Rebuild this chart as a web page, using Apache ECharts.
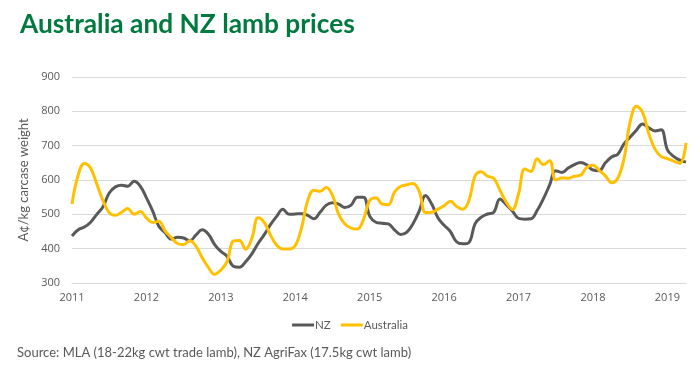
<!DOCTYPE html>
<html><head><meta charset="utf-8">
<script src="https://cdn.jsdelivr.net/npm/echarts@6/dist/echarts.min.js"></script>
<style>html,body{margin:0;padding:0;background:#fff}#c{width:700px;height:373px}</style>
</head><body><div id="c"></div>
<script>
// Monthly categories Jan 2011 .. Apr 2019
const months = [];
for (let y = 2011; y <= 2019; y++) {
  for (let m = 1; m <= 12; m++) {
    if (months.length < 100) months.push(y + '-' + String(m).padStart(2, '0'));
  }
}
const yTicks = [300, 400, 500, 600, 700, 800, 900];

const nz = [
  437, 455, 463, 477, 500, 522, 562, 580, 585, 582, 596, 582,
  548, 510, 465, 447, 428, 433, 431, 423, 440, 455, 442, 412,
  392, 378, 349, 346, 362, 385, 415, 441, 470, 494, 515, 500,
  501, 502, 497, 487, 506, 527, 534, 530, 520, 527, 550, 550,
  495, 477, 474, 472, 455, 441, 448, 473, 510, 555, 530, 490,
  468, 450, 420, 414, 418, 473, 492, 501, 506, 545, 528, 510,
  488, 486, 487, 511, 545, 585, 627, 622, 635, 645, 651, 644,
  629, 627, 650, 667, 675, 705, 725, 745, 763, 752, 743, 746,
  688, 669, 658, 652
];
const australia = [
  530, 615, 648, 634, 588, 540, 505, 497, 506, 517, 500, 508,
  490, 476, 480, 452, 433, 415, 412, 423, 407, 373, 345, 325,
  338, 362, 422, 424, 398, 430, 490, 476, 440, 410, 399, 399,
  409, 460, 540, 570, 567, 578, 555, 500, 472, 460, 457, 485,
  540, 548, 530, 528, 565, 582, 586, 590, 566, 505, 506, 515,
  525, 538, 523, 515, 540, 612, 624, 611, 605, 570, 536, 514,
  560, 632, 625, 662, 645, 656, 600, 606, 605, 611, 614, 637,
  643, 628, 612, 592, 605, 662, 770, 815, 797, 735, 690, 668,
  662, 655, 648, 708
];

const chart = echarts.init(document.getElementById('c'), null, {renderer: 'canvas'});
chart.setOption({
  animation: false,
  backgroundColor: '#ffffff',
  title: {
    text: 'Australia and NZ lamb prices',
    left: 15, top: 7,
    textStyle: {color: '#007A3E', fontFamily: 'Lato', fontWeight: 'bold', fontSize: 26.3}
  },
  graphic: [{
    type: 'text', left: 17, top: 346,
    style: {text: 'Source: MLA (18-22kg cwt trade lamb), NZ AgriFax (17.5kg cwt lamb)',
      fill: '#595959', font: '13px Lato'}
  }],
  legend: {
    top: 314, left: 'center',
    itemWidth: 22, itemHeight: 3, itemGap: 10, icon: 'rect',
    textStyle: {color: '#595959', fontFamily: 'Lato', fontSize: 11.5, padding: [0, 0, 0, -4]},
    data: ['NZ', 'Australia']
  },
  grid: {left: 72, right: 14, top: 77, bottom: 90, containLabel: false},
  xAxis: {
    type: 'category', data: months, boundaryGap: false,
    axisLine: {show: true, lineStyle: {color: '#D9D9D9'}},
    axisTick: {show: false},
    axisLabel: {
      interval: (i, v) => v.endsWith('-01'),
      formatter: v => v.slice(0, 4),
      color: '#595959', fontFamily: 'Open Sans', fontSize: 11, margin: 9
    },
    splitLine: {show: false}
  },
  yAxis: {
    type: 'value', min: yTicks[0], max: yTicks[yTicks.length - 1], interval: 100,
    name: 'A¢/kg carcase weight', nameLocation: 'middle', nameGap: 40,
    nameTextStyle: {color: '#595959', fontFamily: 'Lato', fontSize: 13},
    axisLine: {show: false}, axisTick: {show: false},
    axisLabel: {color: '#595959', fontFamily: 'Open Sans', fontSize: 11, margin: 12},
    splitLine: {lineStyle: {color: '#D9D9D9', width: 1}}
  },
  series: [
    {name: 'NZ', type: 'line', data: nz, smooth: 0.4, showSymbol: false,
     lineStyle: {color: '#595959', width: 3}, itemStyle: {color: '#595959'}},
    {name: 'Australia', type: 'line', data: australia, smooth: 0.4, showSymbol: false,
     lineStyle: {color: '#FFC000', width: 3}, itemStyle: {color: '#FFC000'}}
  ]
});
</script></body></html>
